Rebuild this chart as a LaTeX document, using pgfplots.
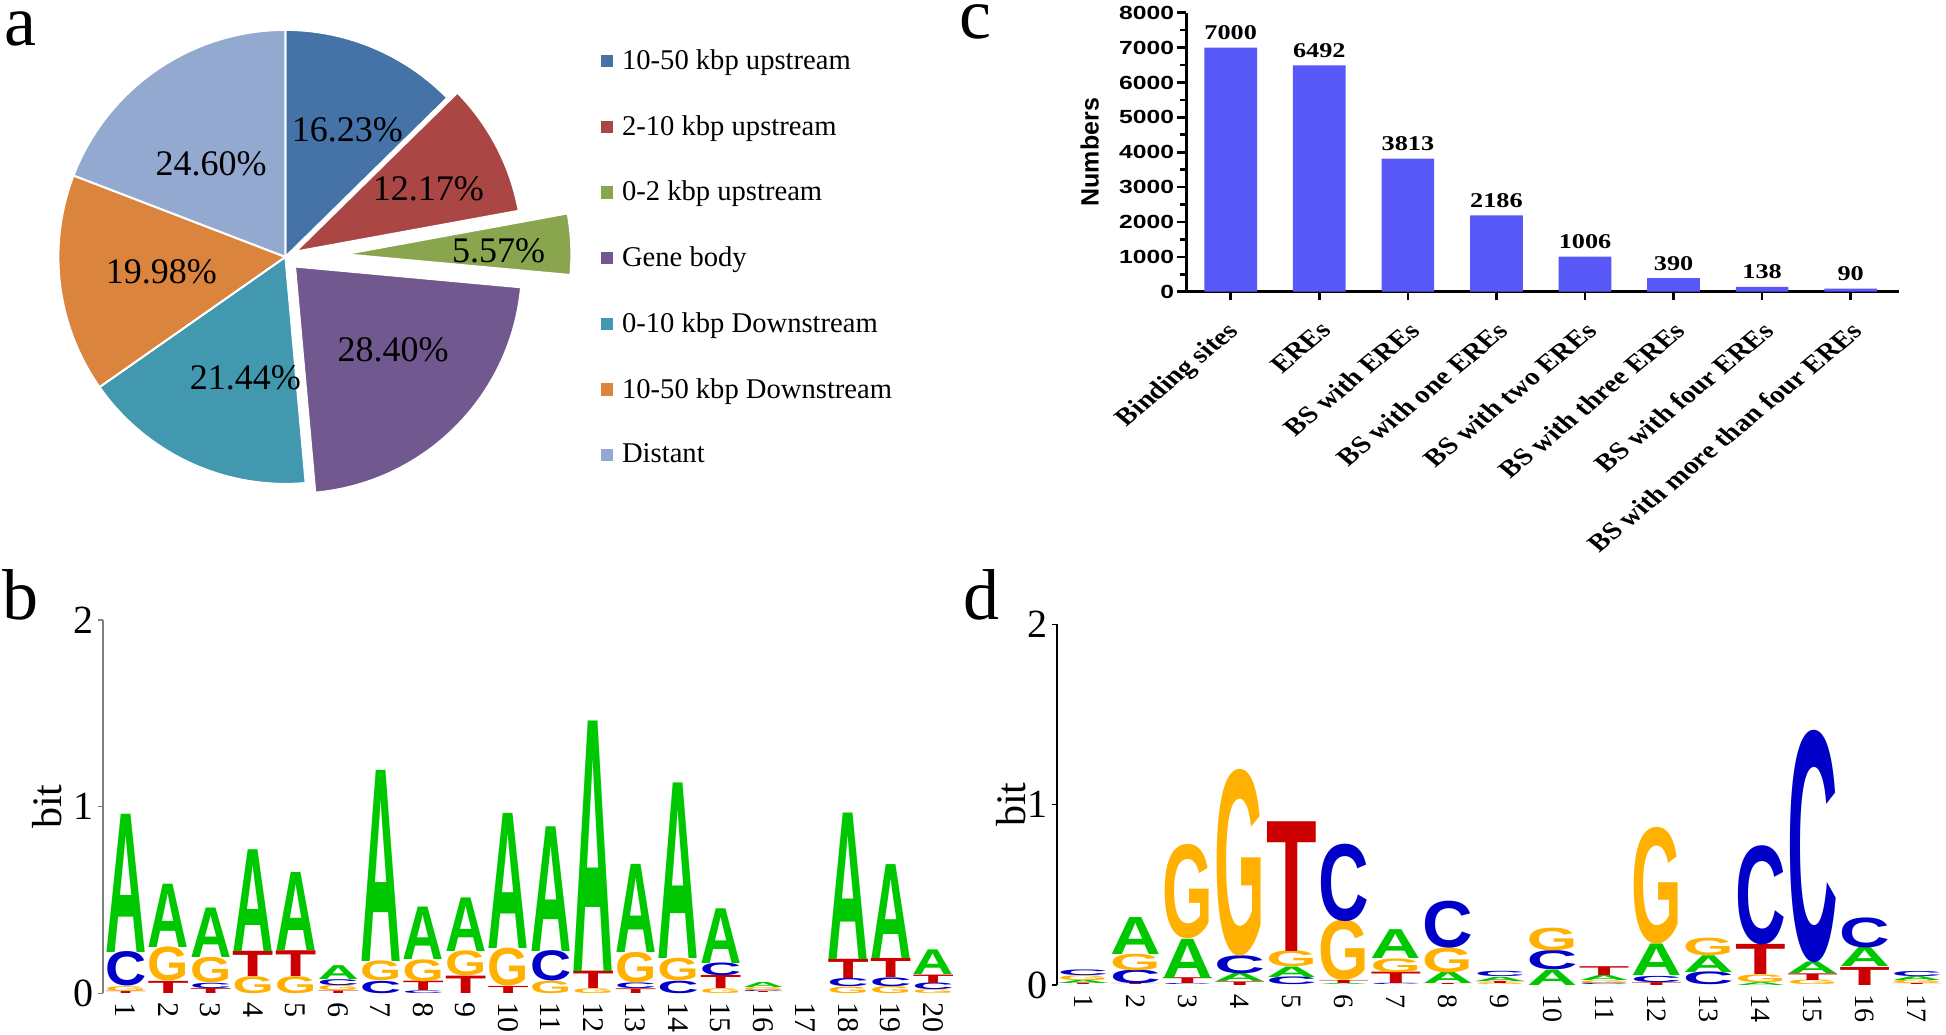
\documentclass[border=0pt]{standalone}
\usepackage{fontspec}
\setmainfont{Liberation Serif}
\setsansfont{Liberation Sans}
\usepackage{graphicx}
\usepackage{pgfplots}
\usepackage{pgfplotstable}
\pgfplotsset{compat=1.18}

\definecolor{pieA}{RGB}{69,114,167}
\definecolor{pieB}{RGB}{170,70,67}
\definecolor{pieC}{RGB}{137,165,78}
\definecolor{pieD}{RGB}{113,88,143}
\definecolor{pieE}{RGB}{65,152,175}
\definecolor{pieF}{RGB}{219,132,61}
\definecolor{pieG}{RGB}{147,169,207}
\definecolor{barc}{RGB}{88,88,248}
\definecolor{lgA}{RGB}{0,200,0}
\definecolor{lgC}{RGB}{0,0,200}
\definecolor{lgG}{RGB}{255,176,0}
\definecolor{lgT}{RGB}{204,0,0}

% ---------- pie data ----------
\pgfmathsetmacro\pietotal{16.23+12.17+5.57+28.40+21.44+19.98+24.60}
\xdef\pieang{90}
\newcommand\defslice[6]{% id, value, explode, label radius, label dx, label dy
  \pgfmathsetmacro\tmpS{\pieang}%
  \pgfmathsetmacro\tmpE{\pieang-360*#2/\pietotal}%
  \pgfmathsetmacro\tmpM{(\tmpS+\tmpE)/2}%
  \pgfmathsetmacro\tmpDX{#3*cos(\tmpM)}%
  \pgfmathsetmacro\tmpDY{#3*sin(\tmpM)}%
  \pgfmathsetmacro\tmpLX{(#3+#4)*cos(\tmpM)+#5}%
  \pgfmathsetmacro\tmpLY{(#3+#4)*sin(\tmpM)+#6}%
  \expandafter\xdef\csname pie#1s\endcsname{\tmpS}%
  \expandafter\xdef\csname pie#1e\endcsname{\tmpE}%
  \expandafter\xdef\csname pie#1dx\endcsname{\tmpDX}%
  \expandafter\xdef\csname pie#1dy\endcsname{\tmpDY}%
  \expandafter\xdef\csname pie#1lx\endcsname{\tmpLX}%
  \expandafter\xdef\csname pie#1ly\endcsname{\tmpLY}%
  \xdef\pieang{\tmpE}}
\defslice{A}{16.23}{0}{0.62}{0.033}{-0.011}
\defslice{B}{12.17}{0.05}{0.66}{0}{-0.027}
\defslice{C}{5.57}{0.26}{0.68}{0}{-0.016}
\defslice{D}{28.40}{0.06}{0.58}{0.022}{0.044}
\defslice{E}{21.44}{0}{0.56}{0.06}{-0.027}
\defslice{F}{19.98}{0}{0.55}{0}{0}
\defslice{G}{24.60}{0}{0.53}{-0.027}{-0.027}

\newcommand\pieslice[1]{%
  \addplot[fill=pie#1, draw=white, line width=1pt, samples=60, variable=\t,
    domain={\csname pie#1e\endcsname}:{\csname pie#1s\endcsname}]
    ({\csname pie#1dx\endcsname+cos(\t)},{\csname pie#1dy\endcsname+sin(\t)})
    -- (axis cs:{\csname pie#1dx\endcsname},{\csname pie#1dy\endcsname}) -- cycle;}

% ---------- bar chart label helpers ----------
\newcommand\xlab[1]{\scalebox{1.2}[1]{\rotatebox{45}{#1}}}

% ---------- logo letters ----------
% meta code = letter followed by its height in bits, e.g. A0.74
\newcommand\lgl[4]{% letter, height (bits), pt per bit, width
  \pgfmathsetlengthmacro\lgH{#2*#3}%
  \resizebox{#4}{\lgH}{\textcolor{lg#1}{\sffamily\bfseries #1}}}
\def\lgB#1#2\relax{\lgl{#1}{#2}{93.35pt}{20.6pt}}
\def\lgD#1#2\relax{\lgl{#1}{#2}{90.18pt}{25.3pt}}

\pgfplotstableread{
x y0 m
1 0 T0.012
1 0.012 G0.026
1 0.038 C0.182
1 0.22 A0.74
2 0 T0.065
2 0.065 G0.18
2 0.245 A0.339
3 0 T0.027
3 0.027 C0.028
3 0.055 G0.135
3 0.19 A0.265
4 0 G0.09
4 0.09 T0.135
4 0.225 A0.545
5 0 G0.09
5 0.09 T0.138
5 0.228 A0.418
6 0 T0.014
6 0.014 G0.027
6 0.041 C0.031
6 0.072 A0.074
7 0 C0.065
7 0.065 G0.105
7 0.17 A1.023
8 0 C0.014
8 0.014 T0.05
8 0.064 G0.116
8 0.18 A0.281
9 0 T0.093
9 0.093 G0.132
9 0.225 A0.287
10 0 T0.038
10 0.038 G0.2
10 0.238 A0.723
11 0 G0.065
11 0.065 C0.16
11 0.225 A0.668
12 0 G0.025
12 0.025 T0.093
12 0.118 A1.341
13 0 T0.025
13 0.025 C0.03
13 0.055 G0.161
13 0.216 A0.472
14 0 C0.066
14 0.066 G0.119
14 0.185 A0.94
15 0 G0.025
15 0.025 T0.07
15 0.095 C0.067
15 0.162 A0.293
16 0 T0.006
16 0.006 C0.008
16 0.014 G0.016
16 0.03 A0.027
18 0 G0.034
18 0.034 C0.043
18 0.077 T0.103
18 0.18 A0.784
19 0 G0.037
19 0.037 C0.046
19 0.083 T0.102
19 0.185 A0.503
20 0 G0.02
20 0.02 C0.035
20 0.055 T0.045
20 0.1 A0.132
}\logoB

\pgfplotstableread{
x y0 m
1 0 T0.008
1 0.008 A0.018
1 0.026 G0.026
1 0.052 C0.031
2 0 T0.006
2 0.006 C0.074
2 0.08 G0.09
2 0.17 A0.205
3 0 C0.006
3 0.006 T0.032
3 0.038 A0.217
3 0.255 G0.516
4 0 T0.02
4 0.02 A0.045
4 0.065 C0.098
4 0.163 G1.02
5 0 C0.042
5 0.042 A0.058
5 0.1 G0.087
5 0.187 T0.719
6 0 A0.007
6 0.007 T0.017
6 0.024 G0.329
6 0.353 C0.423
7 0 C0.007
7 0.007 T0.063
7 0.07 G0.075
7 0.145 A0.16
8 0 T0.006
8 0.006 A0.064
8 0.07 G0.135
8 0.205 C0.257
9 0 G0.01
9 0.01 T0.012
9 0.022 A0.023
9 0.045 C0.029
10 0 A0.085
10 0.085 C0.105
10 0.19 G0.124
11 0 C0.01
11 0.01 G0.015
11 0.025 A0.028
11 0.053 T0.049
12 0 T0.016
12 0.016 C0.034
12 0.05 A0.175
12 0.225 G0.638
13 0 C0.07
13 0.07 A0.093
13 0.163 G0.096
14 0 A0.016
14 0.016 G0.042
14 0.058 T0.167
14 0.225 C0.542
15 0 G0.025
15 0.025 T0.037
15 0.062 A0.064
15 0.126 C1.27
16 0 T0.1
16 0.1 A0.106
16 0.206 C0.164
17 0 T0.006
17 0.006 G0.018
17 0.024 A0.022
17 0.046 C0.028
}\logoD

\begin{document}
\begin{tikzpicture}
\useasboundingbox (0,0) rectangle (973pt,517pt);

% ================= panel a : pie =================
\begin{axis}[at={(142.7pt,388.55pt)}, anchor=center, scale only axis,
  width=306.45pt, height=249.7pt,
  xmin=-1.35, xmax=1.35, ymin=-1.1, ymax=1.1, hide axis, clip=false,
  legend cell align=left,
  legend style={at={(1.0144,0.916)}, anchor=north west, draw=none, fill=none,
    inner xsep=0pt, inner ysep=0pt, row sep=21.45pt,
    font=\fontsize{14.3}{14.3}\selectfont,
    nodes={inner sep=0pt, text depth=0.15em},
    /tikz/every odd column/.append style={column sep=4.3pt}},
  legend image code/.code={\fill[#1,draw=none] (0pt,-3.1pt) rectangle (6.2pt,3.1pt);}]
\pieslice{A}
\pieslice{B}
\pieslice{C}
\pieslice{D}
\pieslice{E}
\pieslice{F}
\pieslice{G}
\legend{10-50 kbp upstream, 2-10 kbp upstream, 0-2 kbp upstream, Gene body,
  0-10 kbp Downstream, 10-50 kbp Downstream, Distant}
\begin{scope}[every node/.style={font=\fontsize{18}{18}\selectfont}]
\node at (axis cs:\pieAlx,\pieAly) {16.23\%};
\node at (axis cs:\pieBlx,\pieBly) {12.17\%};
\node at (axis cs:\pieClx,\pieCly) {5.57\%};
\node at (axis cs:\pieDlx,\pieDly) {28.40\%};
\node at (axis cs:\pieElx,\pieEly) {21.44\%};
\node at (axis cs:\pieFlx,\pieFly) {19.98\%};
\node at (axis cs:\pieGlx,\pieGly) {24.60\%};
\end{scope}
\end{axis}

% ================= panel c : bars =================
\begin{axis}[at={(593pt,371.15pt)}, anchor=south west, scale only axis,
  width=356.65pt, height=139.5pt,
  xmin=-0.505, xmax=7.549, ymin=0, ymax=8000,
  axis x line*=bottom, axis y line*=left,
  axis line style={line width=1.5pt, -},
  tick align=outside, tick style={black, line width=1.3pt},
  major tick length=4.3pt, minor tick length=3pt,
  ytick={0,1000,...,8000}, minor y tick num=1,
  xtick={0,...,7},
  xticklabels={\xlab{Binding sites}, \xlab{EREs}, \xlab{BS with EREs}, \xlab{BS with one EREs},
    \xlab{BS with two EREs}, \xlab{BS with three EREs}, \xlab{BS with four EREs},
    \xlab{BS with more than four EREs}},
  /pgf/number format/assume math mode=true,
  /pgf/number format/1000 sep={}, scaled y ticks=false,
  yticklabel={\scalebox{1.3}[1]{\pgfmathprintnumber{\tick}}},
  yticklabel style={font=\sffamily\bfseries\fontsize{9.5}{9.5}\selectfont, inner sep=1.5pt},
  xticklabel style={font=\bfseries\fontsize{12.2}{12.2}\selectfont,
    anchor=north east, inner sep=0pt, yshift=-10pt, xshift=7pt},
  ylabel={Numbers},
  ylabel style={font=\sffamily\bfseries\fontsize{12.5}{12.5}\selectfont,
    at={(axis description cs:-0.135,0.5)}, anchor=center},
  clip=false]
\addplot[ybar, bar width=26.35pt, fill=barc, draw=none,
  nodes near coords={\scalebox{1.25}[1]{\pgfmathprintnumber{\pgfplotspointmeta}}},
  nodes near coords style={font=\bfseries\fontsize{10.5}{10.5}\selectfont, inner sep=0pt,
    anchor=south, yshift=3.7pt}]
  coordinates {(0,7000) (1,6492) (2,3813) (3,2186) (4,1006) (5,390) (6,138) (7,90)};
\end{axis}

% ================= panel b : logo =================
\begin{axis}[at={(51.35pt,20.35pt)}, anchor=south west, scale only axis,
  width=428pt, height=186.7pt,
  xmin=0.46, xmax=20.6, ymin=0, ymax=2,
  axis lines*=left, x axis line style={draw=none},
  y axis line style={gray, line width=0.8pt, -},
  xtick={1,...,20}, xtick style={draw=none},
  ytick={0,1,2}, ytick style={gray, line width=0.8pt},
  tick align=outside, major tick length=2.5pt,
  /pgf/number format/assume math mode=true,
  yticklabel style={font=\fontsize{20}{20}\selectfont, inner sep=2pt},
  xticklabel style={font=\fontsize{15}{15}\selectfont, rotate=-90, anchor=west, inner sep=2pt},
  ylabel={bit},
  ylabel style={font=\fontsize{21}{21}\selectfont, at={(axis description cs:-0.065,0.5)}, anchor=center},
  clip=false]
\addplot[draw=none, mark=none, point meta=explicit symbolic,
  nodes near coords={\expandafter\lgB\pgfplotspointmeta\relax},
  every node near coord/.append style={anchor=south, inner sep=0pt, outer sep=0pt}]
  table[x=x, y=y0, meta=m] {\logoB};
\end{axis}

% ================= panel d : logo =================
\begin{axis}[at={(528.35pt,24.5pt)}, anchor=south west, scale only axis,
  width=444.4pt, height=180.35pt,
  xmin=0.49, xmax=17.55, ymin=0, ymax=2,
  axis lines*=left, x axis line style={draw=none},
  y axis line style={black, line width=0.8pt, -},
  xtick={1,...,17}, xtick style={draw=none},
  ytick={0,1,2}, ytick style={black, line width=0.8pt},
  tick align=outside, major tick length=2.5pt,
  /pgf/number format/assume math mode=true,
  yticklabel style={font=\fontsize{20}{20}\selectfont, inner sep=2pt},
  xticklabel style={font=\fontsize{14}{14}\selectfont, rotate=-90, anchor=west, inner sep=2pt},
  ylabel={bit},
  ylabel style={font=\fontsize{21}{21}\selectfont, at={(axis description cs:-0.051,0.5)}, anchor=center},
  clip=false]
\addplot[draw=none, mark=none, point meta=explicit symbolic,
  nodes near coords={\expandafter\lgD\pgfplotspointmeta\relax},
  every node near coord/.append style={anchor=south, inner sep=0pt, outer sep=0pt}]
  table[x=x, y=y0, meta=m] {\logoD};
\end{axis}

% panel letters
\node[anchor=base west, font=\fontsize{36}{36}\selectfont, inner sep=0pt] at (2pt,494pt) {a};
\node[anchor=base west, font=\fontsize{36}{36}\selectfont, inner sep=0pt] at (479.7pt,497.5pt) {c};
\node[anchor=base west, font=\fontsize{36}{36}\selectfont, inner sep=0pt] at (1pt,207.4pt) {b};
\node[anchor=base west, font=\fontsize{36}{36}\selectfont, inner sep=0pt] at (481.5pt,207.4pt) {d};
\end{tikzpicture}
\end{document}
